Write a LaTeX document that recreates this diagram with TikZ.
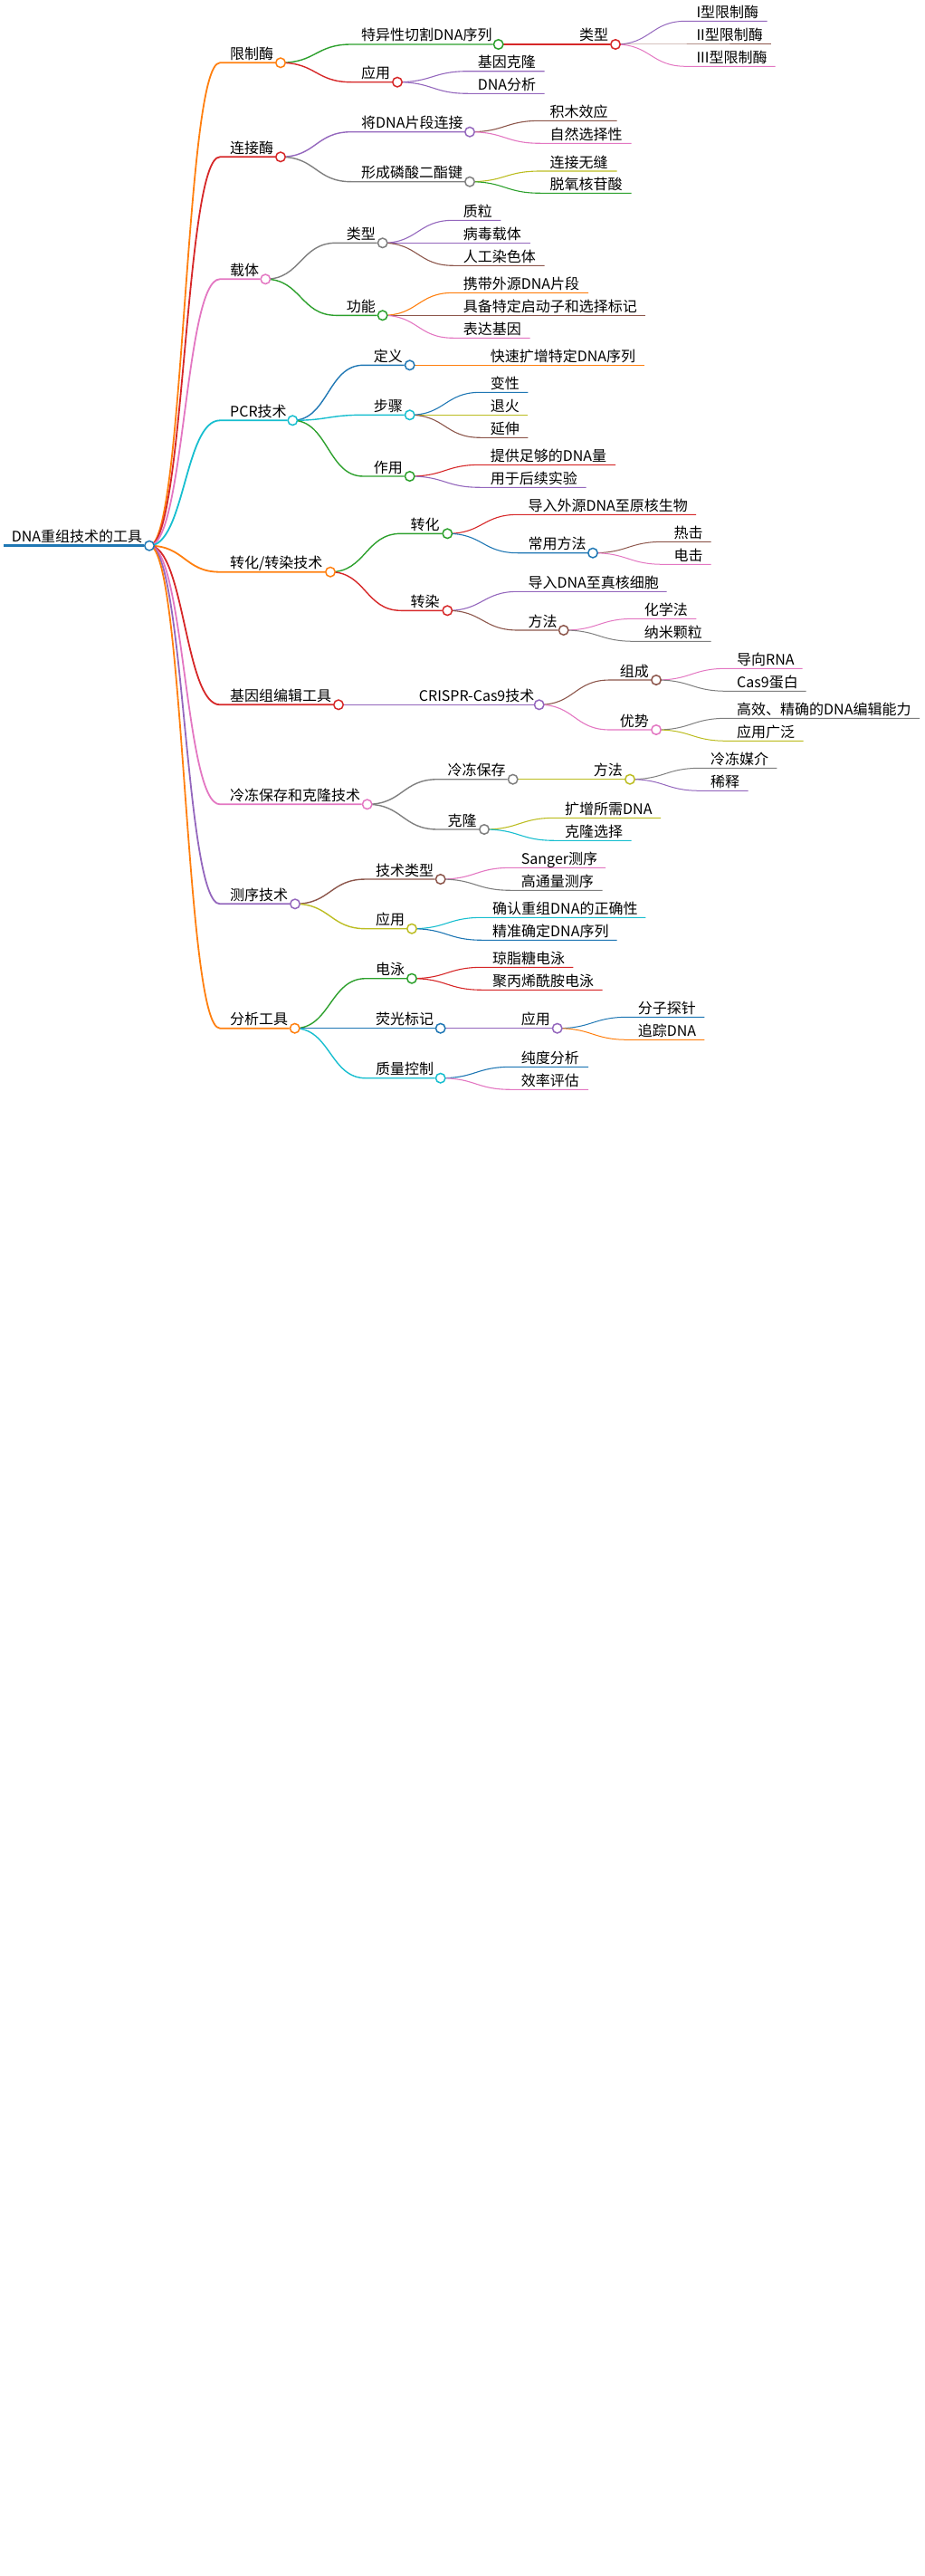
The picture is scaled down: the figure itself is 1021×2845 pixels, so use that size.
\documentclass[tikz,border=0pt]{standalone}
\usepackage{fontspec}
\setmainfont{Noto Sans CJK SC}
\usetikzlibrary{backgrounds}

\definecolor{mblue}{HTML}{1F77B4}
\definecolor{morange}{HTML}{FF7F0E}
\definecolor{mgreen}{HTML}{2CA02C}
\definecolor{mred}{HTML}{D62728}
\definecolor{mpurple}{HTML}{9467BD}
\definecolor{mbrown}{HTML}{8C564B}
\definecolor{mpink}{HTML}{E377C2}
\definecolor{mgray}{HTML}{7F7F7F}
\definecolor{molive}{HTML}{BCBD22}
\definecolor{mcyan}{HTML}{17BECF}

\begin{document}
\begin{tikzpicture}
		[
		x=1pt, y=-1pt,
		font=\fontsize{16}{16}\selectfont,
		line cap=round
		]
		
		% Node styles: label above its line, hollow dot at the line end
		\tikzstyle{topic}=[anchor=base west, inner sep=0, yshift=4pt, text=black];
		\tikzstyle{dot}=[circle, fill=white, inner sep=0, minimum size=10.5pt, line width=1.5pt];
		\tikzstyle{link}=[to path={.. controls +(39,0) and +(-39,0) .. (\tikztotarget)}];
		
		% Line width for each depth of the map
		\tikzstyle{depth 0}=[line width=3.4pt]
		\tikzstyle{depth 1}=[line width=1.8pt]
		\tikzstyle{depth 2}=[line width=1.4pt]
		\tikzstyle{depth 3}=[line width=1.1pt]
		\tikzstyle{depth 4}=[line width=1pt]
		
		\useasboundingbox (0,0) rectangle (1021,2845);
		
		% Root
		\coordinate (0-s) at (4,602.7);
		\node[topic] (0-t) at (12.7,602.7) {DNA重组技术的工具};
		\node[dot, draw=mblue] (0) at (165,602.7) {};
		
		% 1: restriction enzymes
		\coordinate (0-1-s) at (243,69.3);
		\node[topic] (0-1-t) at (254,69.3) {限制酶};
		\node[dot, draw=morange] (0-1) at (310,69.3) {};
		\coordinate (0-1-1-s) at (388,49);
		\node[topic] (0-1-1-t) at (399,49) {特异性切割DNA序列};
		\node[dot, draw=mgreen] (0-1-1) at (550.7,49) {};
		\coordinate (0-1-1-1-s) at (629,49);
		\node[topic] (0-1-1-1-t) at (640,49) {类型};
		\node[dot, draw=mred] (0-1-1-1) at (680,49) {};
		\coordinate (0-1-1-1-1-s) at (758,23.3);
		\node[topic] (0-1-1-1-1-t) at (769.3,23.3) {I型限制酶};
		\coordinate (0-1-1-1-1) at (847.7,23.3);
		\coordinate (0-1-1-1-2-s) at (758,49);
		\node[topic] (0-1-1-1-2-t) at (769.3,49) {II型限制酶};
		\coordinate (0-1-1-1-2) at (851.7,49);
		\coordinate (0-1-1-1-3-s) at (758,73.3);
		\node[topic] (0-1-1-1-3-t) at (769.3,73.3) {III型限制酶};
		\coordinate (0-1-1-1-3) at (856.7,73.3);
		\coordinate (0-1-2-s) at (388,90.7);
		\node[topic] (0-1-2-t) at (399,90.7) {应用};
		\node[dot, draw=mred] (0-1-2) at (439,90.7) {};
		\coordinate (0-1-2-1-s) at (517,78.7);
		\node[topic] (0-1-2-1-t) at (527.7,78.7) {基因克隆};
		\coordinate (0-1-2-1) at (601.7,78.7);
		\coordinate (0-1-2-2-s) at (517,103.3);
		\node[topic] (0-1-2-2-t) at (527.7,103.3) {DNA分析};
		\coordinate (0-1-2-2) at (601.7,103.3);
		
		% 2: ligase
		\coordinate (0-2-s) at (243,173.3);
		\node[topic] (0-2-t) at (254,173.3) {连接酶};
		\node[dot, draw=mred] (0-2) at (310,173.3) {};
		\coordinate (0-2-1-s) at (388,145.7);
		\node[topic] (0-2-1-t) at (399,145.7) {将DNA片段连接};
		\node[dot, draw=mpurple] (0-2-1) at (519,145.7) {};
		\coordinate (0-2-1-1-s) at (597,133.3);
		\node[topic] (0-2-1-1-t) at (607.3,133.3) {积木效应};
		\coordinate (0-2-1-1) at (681.7,133.3);
		\coordinate (0-2-1-2-s) at (597,158.3);
		\node[topic] (0-2-1-2-t) at (607.3,158.3) {自然选择性};
		\coordinate (0-2-1-2) at (697.7,158.3);
		\coordinate (0-2-2-s) at (388,200.7);
		\node[topic] (0-2-2-t) at (399,200.7) {形成磷酸二酯键};
		\node[dot, draw=mgray] (0-2-2) at (519,200.7) {};
		\coordinate (0-2-2-1-s) at (597,189);
		\node[topic] (0-2-2-1-t) at (607.3,189) {连接无缝};
		\coordinate (0-2-2-1) at (681.7,189);
		\coordinate (0-2-2-2-s) at (597,213.3);
		\node[topic] (0-2-2-2-t) at (607.3,213.3) {脱氧核苷酸};
		\coordinate (0-2-2-2) at (697.7,213.3);
		
		% 3: vectors
		\coordinate (0-3-s) at (243,308.3);
		\node[topic] (0-3-t) at (254,308.3) {载体};
		\node[dot, draw=mpink] (0-3) at (293.3,308.3) {};
		\coordinate (0-3-1-s) at (371.3,268.3);
		\node[topic] (0-3-1-t) at (382.7,268.3) {类型};
		\node[dot, draw=mgray] (0-3-1) at (422.7,268.3) {};
		\coordinate (0-3-1-1-s) at (500.7,243.3);
		\node[topic] (0-3-1-1-t) at (511.7,243.3) {质粒};
		\coordinate (0-3-1-1) at (553.3,243.3);
		\coordinate (0-3-1-2-s) at (500.7,268.3);
		\node[topic] (0-3-1-2-t) at (511.7,268.3) {病毒载体};
		\coordinate (0-3-1-2) at (585.7,268.3);
		\coordinate (0-3-1-3-s) at (500.7,293.3);
		\node[topic] (0-3-1-3-t) at (511.7,293.3) {人工染色体};
		\coordinate (0-3-1-3) at (601.7,293.3);
		\coordinate (0-3-2-s) at (371.3,348.3);
		\node[topic] (0-3-2-t) at (382.7,348.3) {功能};
		\node[dot, draw=mgreen] (0-3-2) at (422.7,348.3) {};
		\coordinate (0-3-2-1-s) at (500.7,323.3);
		\node[topic] (0-3-2-1-t) at (511.7,323.3) {携带外源DNA片段};
		\coordinate (0-3-2-1) at (650,323.3);
		\coordinate (0-3-2-2-s) at (500.7,348.3);
		\node[topic] (0-3-2-2-t) at (511.7,348.3) {具备特定启动子和选择标记};
		\coordinate (0-3-2-2) at (713.3,348.3);
		\coordinate (0-3-2-3-s) at (500.7,373.3);
		\node[topic] (0-3-2-3-t) at (511.7,373.3) {表达基因};
		\coordinate (0-3-2-3) at (585.7,373.3);
		
		% 4: PCR
		\coordinate (0-4-s) at (243,464.3);
		\node[topic] (0-4-t) at (254,464.3) {PCR技术};
		\node[dot, draw=mcyan] (0-4) at (323.3,464.3) {};
		\coordinate (0-4-1-s) at (401.3,403.3);
		\node[topic] (0-4-1-t) at (412.7,403.3) {定义};
		\node[dot, draw=mblue] (0-4-1) at (452.7,403.3) {};
		\coordinate (0-4-1-1-s) at (530.7,403.3);
		\node[topic] (0-4-1-1-t) at (541.7,403.3) {快速扩增特定DNA序列};
		\coordinate (0-4-1-1) at (711.7,403.3);
		\coordinate (0-4-2-s) at (401.3,458.3);
		\node[topic] (0-4-2-t) at (412.7,458.3) {步骤};
		\node[dot, draw=mcyan] (0-4-2) at (452.7,458.3) {};
		\coordinate (0-4-2-1-s) at (530.7,433.3);
		\node[topic] (0-4-2-1-t) at (541.7,433.3) {变性};
		\coordinate (0-4-2-1) at (583.3,433.3);
		\coordinate (0-4-2-2-s) at (530.7,458.3);
		\node[topic] (0-4-2-2-t) at (541.7,458.3) {退火};
		\coordinate (0-4-2-2) at (583.3,458.3);
		\coordinate (0-4-2-3-s) at (530.7,483.3);
		\node[topic] (0-4-2-3-t) at (541.7,483.3) {延伸};
		\coordinate (0-4-2-3) at (583.3,483.3);
		\coordinate (0-4-3-s) at (401.3,526);
		\node[topic] (0-4-3-t) at (412.7,526) {作用};
		\node[dot, draw=mgreen] (0-4-3) at (452.7,526) {};
		\coordinate (0-4-3-1-s) at (530.7,513.3);
		\node[topic] (0-4-3-1-t) at (541.7,513.3) {提供足够的DNA量};
		\coordinate (0-4-3-1) at (680,513.3);
		\coordinate (0-4-3-2-s) at (530.7,538.3);
		\node[topic] (0-4-3-2-t) at (541.7,538.3) {用于后续实验};
		\coordinate (0-4-3-2) at (647.7,538.3);
		
		% 5: transformation / transfection
		\coordinate (0-5-s) at (243,631.7);
		\node[topic] (0-5-t) at (254,631.7) {转化/转染技术};
		\node[dot, draw=morange] (0-5) at (365,631.7) {};
		\coordinate (0-5-1-s) at (443,589.3);
		\node[topic] (0-5-1-t) at (453.3,589.3) {转化};
		\node[dot, draw=mgreen] (0-5-1) at (494.3,589.3) {};
		\coordinate (0-5-1-1-s) at (572.3,568.3);
		\node[topic] (0-5-1-1-t) at (583.3,568.3) {导入外源DNA至原核生物};
		\coordinate (0-5-1-1) at (769,568.3);
		\coordinate (0-5-1-2-s) at (572.3,610.7);
		\node[topic] (0-5-1-2-t) at (583.3,610.7) {常用方法};
		\node[dot, draw=mblue] (0-5-1-2) at (655,610.7) {};
		\coordinate (0-5-1-2-1-s) at (733,598.3);
		\node[topic] (0-5-1-2-1-t) at (744.3,598.3) {热击};
		\coordinate (0-5-1-2-1) at (785.7,598.3);
		\coordinate (0-5-1-2-2-s) at (733,623.3);
		\node[topic] (0-5-1-2-2-t) at (744.3,623.3) {电击};
		\coordinate (0-5-1-2-2) at (785.7,623.3);
		\coordinate (0-5-2-s) at (443,674.3);
		\node[topic] (0-5-2-t) at (453.3,674.3) {转染};
		\node[dot, draw=mred] (0-5-2) at (494.3,674.3) {};
		\coordinate (0-5-2-1-s) at (572.3,653.3);
		\node[topic] (0-5-2-1-t) at (583.3,653.3) {导入DNA至真核细胞};
		\coordinate (0-5-2-1) at (736.7,653.3);
		\coordinate (0-5-2-2-s) at (572.3,696);
		\node[topic] (0-5-2-2-t) at (583.3,696) {方法};
		\node[dot, draw=mbrown] (0-5-2-2) at (622.7,696) {};
		\coordinate (0-5-2-2-1-s) at (700.7,683.3);
		\node[topic] (0-5-2-2-1-t) at (711.7,683.3) {化学法};
		\coordinate (0-5-2-2-1) at (769.3,683.3);
		\coordinate (0-5-2-2-2-s) at (700.7,708.3);
		\node[topic] (0-5-2-2-2-t) at (711.7,708.3) {纳米颗粒};
		\coordinate (0-5-2-2-2) at (785.7,708.3);
		
		% 6: genome editing
		\coordinate (0-6-s) at (243,778.3);
		\node[topic] (0-6-t) at (254,778.3) {基因组编辑工具};
		\node[dot, draw=mred] (0-6) at (374,778.3) {};
		\coordinate (0-6-1-s) at (452,778.3);
		\node[topic] (0-6-1-t) at (462.7,778.3) {CRISPR-Cas9技术};
		\node[dot, draw=mpurple] (0-6-1) at (595.7,778.3) {};
		\coordinate (0-6-1-1-s) at (673.7,751);
		\node[topic] (0-6-1-1-t) at (684.7,751) {组成};
		\node[dot, draw=mbrown] (0-6-1-1) at (725,751) {};
		\coordinate (0-6-1-1-1-s) at (803,738.3);
		\node[topic] (0-6-1-1-1-t) at (814,738.3) {导向RNA};
		\coordinate (0-6-1-1-1) at (886.7,738.3);
		\coordinate (0-6-1-1-2-s) at (803,763.3);
		\node[topic] (0-6-1-1-2-t) at (814,763.3) {Cas9蛋白};
		\coordinate (0-6-1-1-2) at (890.7,763.3);
		\coordinate (0-6-1-2-s) at (673.7,806);
		\node[topic] (0-6-1-2-t) at (684.7,806) {优势};
		\node[dot, draw=mpink] (0-6-1-2) at (725,806) {};
		\coordinate (0-6-1-2-1-s) at (803,793.3);
		\node[topic] (0-6-1-2-1-t) at (814,793.3) {高效、精确的DNA编辑能力};
		\coordinate (0-6-1-2-1) at (1016,793.3);
		\coordinate (0-6-1-2-2-s) at (803,818.3);
		\node[topic] (0-6-1-2-2-t) at (814,818.3) {应用广泛};
		\coordinate (0-6-1-2-2) at (887.7,818.3);
		
		% 7: cryopreservation and cloning
		\coordinate (0-7-s) at (243,888.3);
		\node[topic] (0-7-t) at (254,888.3) {冷冻保存和克隆技术};
		\node[dot, draw=mpink] (0-7) at (405.7,888.3) {};
		\coordinate (0-7-1-s) at (483.7,860.7);
		\node[topic] (0-7-1-t) at (494.3,860.7) {冷冻保存};
		\node[dot, draw=mgray] (0-7-1) at (566.7,860.7) {};
		\coordinate (0-7-1-1-s) at (644.7,860.7);
		\node[topic] (0-7-1-1-t) at (655.7,860.7) {方法};
		\node[dot, draw=molive] (0-7-1-1) at (696,860.7) {};
		\coordinate (0-7-1-1-1-s) at (774,848.3);
		\node[topic] (0-7-1-1-1-t) at (785,848.3) {冷冻媒介};
		\coordinate (0-7-1-1-1) at (858.3,848.3);
		\coordinate (0-7-1-1-2-s) at (774,873.3);
		\node[topic] (0-7-1-1-2-t) at (785,873.3) {稀释};
		\coordinate (0-7-1-1-2) at (826.7,873.3);
		\coordinate (0-7-2-s) at (483.7,916);
		\node[topic] (0-7-2-t) at (494.3,916) {克隆};
		\node[dot, draw=mgray] (0-7-2) at (535,916) {};
		\coordinate (0-7-2-1-s) at (613,903.3);
		\node[topic] (0-7-2-1-t) at (624,903.3) {扩增所需DNA};
		\coordinate (0-7-2-1) at (730,903.3);
		\coordinate (0-7-2-2-s) at (613,928.3);
		\node[topic] (0-7-2-2-t) at (624,928.3) {克隆选择};
		\coordinate (0-7-2-2) at (697.7,928.3);
		
		% 8: sequencing
		\coordinate (0-8-s) at (243,998.3);
		\node[topic] (0-8-t) at (254,998.3) {测序技术};
		\node[dot, draw=mpurple] (0-8) at (326,998.3) {};
		\coordinate (0-8-1-s) at (404,971);
		\node[topic] (0-8-1-t) at (415,971) {技术类型};
		\node[dot, draw=mbrown] (0-8-1) at (486.7,971) {};
		\coordinate (0-8-1-1-s) at (564.7,958.3);
		\node[topic] (0-8-1-1-t) at (575.7,958.3) {Sanger测序};
		\coordinate (0-8-1-1) at (669,958.3);
		\coordinate (0-8-1-2-s) at (564.7,983.3);
		\node[topic] (0-8-1-2-t) at (575.7,983.3) {高通量测序};
		\coordinate (0-8-1-2) at (665.7,983.3);
		\coordinate (0-8-2-s) at (404,1025.7);
		\node[topic] (0-8-2-t) at (415,1025.7) {应用};
		\node[dot, draw=molive] (0-8-2) at (455,1025.7) {};
		\coordinate (0-8-2-1-s) at (533,1013.3);
		\node[topic] (0-8-2-1-t) at (544,1013.3) {确认重组DNA的正确性};
		\coordinate (0-8-2-1) at (713.3,1013.3);
		\coordinate (0-8-2-2-s) at (533,1038.3);
		\node[topic] (0-8-2-2-t) at (544,1038.3) {精准确定DNA序列};
		\coordinate (0-8-2-2) at (681.7,1038.3);
		
		% 9: analysis tools
		\coordinate (0-9-s) at (243,1135.7);
		\node[topic] (0-9-t) at (254,1135.7) {分析工具};
		\node[dot, draw=morange] (0-9) at (325.7,1135.7) {};
		\coordinate (0-9-1-s) at (404,1080.7);
		\node[topic] (0-9-1-t) at (415,1080.7) {电泳};
		\node[dot, draw=mgreen] (0-9-1) at (455,1080.7) {};
		\coordinate (0-9-1-1-s) at (533,1068.3);
		\node[topic] (0-9-1-1-t) at (544,1068.3) {琼脂糖电泳};
		\coordinate (0-9-1-1) at (633.3,1068.3);
		\coordinate (0-9-1-2-s) at (533,1093.3);
		\node[topic] (0-9-1-2-t) at (544,1093.3) {聚丙烯酰胺电泳};
		\coordinate (0-9-1-2) at (665.7,1093.3);
		\coordinate (0-9-2-s) at (404,1135.7);
		\node[topic] (0-9-2-t) at (415,1135.7) {荧光标记};
		\node[dot, draw=mblue] (0-9-2) at (486.7,1135.7) {};
		\coordinate (0-9-2-1-s) at (564.7,1135.7);
		\node[topic] (0-9-2-1-t) at (575.7,1135.7) {应用};
		\node[dot, draw=mpurple] (0-9-2-1) at (615.7,1135.7) {};
		\coordinate (0-9-2-1-1-s) at (693.7,1123.3);
		\node[topic] (0-9-2-1-1-t) at (704.7,1123.3) {分子探针};
		\coordinate (0-9-2-1-1) at (778.3,1123.3);
		\coordinate (0-9-2-1-2-s) at (693.7,1148.3);
		\node[topic] (0-9-2-1-2-t) at (704.7,1148.3) {追踪DNA};
		\coordinate (0-9-2-1-2) at (778.3,1148.3);
		\coordinate (0-9-3-s) at (404,1190.7);
		\node[topic] (0-9-3-t) at (415,1190.7) {质量控制};
		\node[dot, draw=mcyan] (0-9-3) at (486.7,1190.7) {};
		\coordinate (0-9-3-1-s) at (564.7,1178.3);
		\node[topic] (0-9-3-1-t) at (575.7,1178.3) {纯度分析};
		\coordinate (0-9-3-1) at (650,1178.3);
		\coordinate (0-9-3-2-s) at (564.7,1203.3);
		\node[topic] (0-9-3-2-t) at (575.7,1203.3) {效率评估};
		\coordinate (0-9-3-2) at (650,1203.3);
		
		% Branches, drawn under the dots
		\begin{scope}[on background layer]
		\draw[depth 0, mblue] (0-s) -- (0);
		% 1
		\draw[depth 1, morange] (0.center) to[link] (0-1-s) -- (0-1);
		\draw[depth 2, mgreen] (0-1.center) to[link] (0-1-1-s) -- (0-1-1);
		\draw[depth 3, mred] (0-1-1.center) to[link] (0-1-1-1-s) -- (0-1-1-1);
		\draw[depth 4, mpurple] (0-1-1-1.center) to[link] (0-1-1-1-1-s) -- (0-1-1-1-1);
		\draw[depth 4, mbrown] (0-1-1-1.center) to[link] (0-1-1-1-2-s) -- (0-1-1-1-2);
		\draw[depth 4, mpink] (0-1-1-1.center) to[link] (0-1-1-1-3-s) -- (0-1-1-1-3);
		\draw[depth 2, mred] (0-1.center) to[link] (0-1-2-s) -- (0-1-2);
		\draw[depth 3, mpurple] (0-1-2.center) to[link] (0-1-2-1-s) -- (0-1-2-1);
		\draw[depth 3, mpurple] (0-1-2.center) to[link] (0-1-2-2-s) -- (0-1-2-2);
		% 2
		\draw[depth 1, mred] (0.center) to[link] (0-2-s) -- (0-2);
		\draw[depth 2, mpurple] (0-2.center) to[link] (0-2-1-s) -- (0-2-1);
		\draw[depth 3, mbrown] (0-2-1.center) to[link] (0-2-1-1-s) -- (0-2-1-1);
		\draw[depth 3, mpink] (0-2-1.center) to[link] (0-2-1-2-s) -- (0-2-1-2);
		\draw[depth 2, mgray] (0-2.center) to[link] (0-2-2-s) -- (0-2-2);
		\draw[depth 3, molive] (0-2-2.center) to[link] (0-2-2-1-s) -- (0-2-2-1);
		\draw[depth 3, mgreen] (0-2-2.center) to[link] (0-2-2-2-s) -- (0-2-2-2);
		% 3
		\draw[depth 1, mpink] (0.center) to[link] (0-3-s) -- (0-3);
		\draw[depth 2, mgray] (0-3.center) to[link] (0-3-1-s) -- (0-3-1);
		\draw[depth 3, mpurple] (0-3-1.center) to[link] (0-3-1-1-s) -- (0-3-1-1);
		\draw[depth 3, mpurple] (0-3-1.center) to[link] (0-3-1-2-s) -- (0-3-1-2);
		\draw[depth 3, mbrown] (0-3-1.center) to[link] (0-3-1-3-s) -- (0-3-1-3);
		\draw[depth 2, mgreen] (0-3.center) to[link] (0-3-2-s) -- (0-3-2);
		\draw[depth 3, morange] (0-3-2.center) to[link] (0-3-2-1-s) -- (0-3-2-1);
		\draw[depth 3, mbrown] (0-3-2.center) to[link] (0-3-2-2-s) -- (0-3-2-2);
		\draw[depth 3, mpink] (0-3-2.center) to[link] (0-3-2-3-s) -- (0-3-2-3);
		% 4
		\draw[depth 1, mcyan] (0.center) to[link] (0-4-s) -- (0-4);
		\draw[depth 2, mblue] (0-4.center) to[link] (0-4-1-s) -- (0-4-1);
		\draw[depth 3, morange] (0-4-1.center) to[link] (0-4-1-1-s) -- (0-4-1-1);
		\draw[depth 2, mcyan] (0-4.center) to[link] (0-4-2-s) -- (0-4-2);
		\draw[depth 3, mblue] (0-4-2.center) to[link] (0-4-2-1-s) -- (0-4-2-1);
		\draw[depth 3, molive] (0-4-2.center) to[link] (0-4-2-2-s) -- (0-4-2-2);
		\draw[depth 3, mbrown] (0-4-2.center) to[link] (0-4-2-3-s) -- (0-4-2-3);
		\draw[depth 2, mgreen] (0-4.center) to[link] (0-4-3-s) -- (0-4-3);
		\draw[depth 3, mred] (0-4-3.center) to[link] (0-4-3-1-s) -- (0-4-3-1);
		\draw[depth 3, mpurple] (0-4-3.center) to[link] (0-4-3-2-s) -- (0-4-3-2);
		% 5
		\draw[depth 1, morange] (0.center) to[link] (0-5-s) -- (0-5);
		\draw[depth 2, mgreen] (0-5.center) to[link] (0-5-1-s) -- (0-5-1);
		\draw[depth 3, mred] (0-5-1.center) to[link] (0-5-1-1-s) -- (0-5-1-1);
		\draw[depth 3, mblue] (0-5-1.center) to[link] (0-5-1-2-s) -- (0-5-1-2);
		\draw[depth 4, mbrown] (0-5-1-2.center) to[link] (0-5-1-2-1-s) -- (0-5-1-2-1);
		\draw[depth 4, mpink] (0-5-1-2.center) to[link] (0-5-1-2-2-s) -- (0-5-1-2-2);
		\draw[depth 2, mred] (0-5.center) to[link] (0-5-2-s) -- (0-5-2);
		\draw[depth 3, mpurple] (0-5-2.center) to[link] (0-5-2-1-s) -- (0-5-2-1);
		\draw[depth 3, mbrown] (0-5-2.center) to[link] (0-5-2-2-s) -- (0-5-2-2);
		\draw[depth 4, mpink] (0-5-2-2.center) to[link] (0-5-2-2-1-s) -- (0-5-2-2-1);
		\draw[depth 4, mgray] (0-5-2-2.center) to[link] (0-5-2-2-2-s) -- (0-5-2-2-2);
		% 6
		\draw[depth 1, mred] (0.center) to[link] (0-6-s) -- (0-6);
		\draw[depth 2, mpurple] (0-6.center) to[link] (0-6-1-s) -- (0-6-1);
		\draw[depth 3, mbrown] (0-6-1.center) to[link] (0-6-1-1-s) -- (0-6-1-1);
		\draw[depth 4, mpink] (0-6-1-1.center) to[link] (0-6-1-1-1-s) -- (0-6-1-1-1);
		\draw[depth 4, mgray] (0-6-1-1.center) to[link] (0-6-1-1-2-s) -- (0-6-1-1-2);
		\draw[depth 3, mpink] (0-6-1.center) to[link] (0-6-1-2-s) -- (0-6-1-2);
		\draw[depth 4, mgray] (0-6-1-2.center) to[link] (0-6-1-2-1-s) -- (0-6-1-2-1);
		\draw[depth 4, molive] (0-6-1-2.center) to[link] (0-6-1-2-2-s) -- (0-6-1-2-2);
		% 7
		\draw[depth 1, mpink] (0.center) to[link] (0-7-s) -- (0-7);
		\draw[depth 2, mgray] (0-7.center) to[link] (0-7-1-s) -- (0-7-1);
		\draw[depth 3, molive] (0-7-1.center) to[link] (0-7-1-1-s) -- (0-7-1-1);
		\draw[depth 4, mgray] (0-7-1-1.center) to[link] (0-7-1-1-1-s) -- (0-7-1-1-1);
		\draw[depth 4, mpurple] (0-7-1-1.center) to[link] (0-7-1-1-2-s) -- (0-7-1-1-2);
		\draw[depth 2, mgray] (0-7.center) to[link] (0-7-2-s) -- (0-7-2);
		\draw[depth 3, molive] (0-7-2.center) to[link] (0-7-2-1-s) -- (0-7-2-1);
		\draw[depth 3, mcyan] (0-7-2.center) to[link] (0-7-2-2-s) -- (0-7-2-2);
		% 8
		\draw[depth 1, mpurple] (0.center) to[link] (0-8-s) -- (0-8);
		\draw[depth 2, mbrown] (0-8.center) to[link] (0-8-1-s) -- (0-8-1);
		\draw[depth 3, mpink] (0-8-1.center) to[link] (0-8-1-1-s) -- (0-8-1-1);
		\draw[depth 3, mgray] (0-8-1.center) to[link] (0-8-1-2-s) -- (0-8-1-2);
		\draw[depth 2, molive] (0-8.center) to[link] (0-8-2-s) -- (0-8-2);
		\draw[depth 3, mcyan] (0-8-2.center) to[link] (0-8-2-1-s) -- (0-8-2-1);
		\draw[depth 3, mblue] (0-8-2.center) to[link] (0-8-2-2-s) -- (0-8-2-2);
		% 9
		\draw[depth 1, morange] (0.center) to[link] (0-9-s) -- (0-9);
		\draw[depth 2, mgreen] (0-9.center) to[link] (0-9-1-s) -- (0-9-1);
		\draw[depth 3, mred] (0-9-1.center) to[link] (0-9-1-1-s) -- (0-9-1-1);
		\draw[depth 3, mred] (0-9-1.center) to[link] (0-9-1-2-s) -- (0-9-1-2);
		\draw[depth 2, mblue] (0-9.center) to[link] (0-9-2-s) -- (0-9-2);
		\draw[depth 3, mpurple] (0-9-2.center) to[link] (0-9-2-1-s) -- (0-9-2-1);
		\draw[depth 4, mblue] (0-9-2-1.center) to[link] (0-9-2-1-1-s) -- (0-9-2-1-1);
		\draw[depth 4, morange] (0-9-2-1.center) to[link] (0-9-2-1-2-s) -- (0-9-2-1-2);
		\draw[depth 2, mcyan] (0-9.center) to[link] (0-9-3-s) -- (0-9-3);
		\draw[depth 3, mblue] (0-9-3.center) to[link] (0-9-3-1-s) -- (0-9-3-1);
		\draw[depth 3, mpink] (0-9-3.center) to[link] (0-9-3-2-s) -- (0-9-3-2);
		\end{scope}
\end{tikzpicture}
\end{document}
